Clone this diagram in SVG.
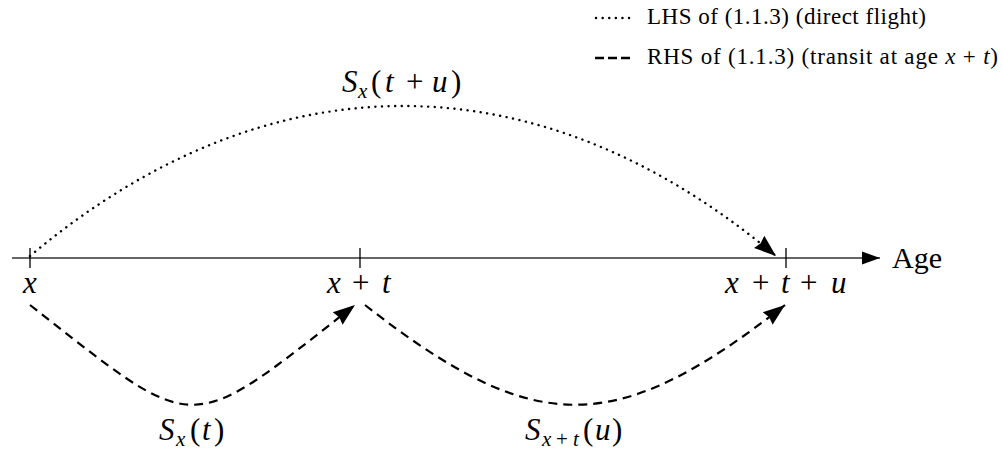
<svg xmlns="http://www.w3.org/2000/svg" width="1003" height="449" viewBox="0 0 1003 449">
<style>
.ax{stroke:#333;stroke-width:1.6;fill:none}
.tk{stroke:#000;stroke-width:1.3}
.dot{stroke:#000;stroke-width:2.4;fill:none;stroke-dasharray:0.1 6.5;stroke-linecap:round}
.dash{stroke:#000;stroke-width:2.2;fill:none;stroke-dasharray:9 6}
.ldash{stroke:#000;stroke-width:2.4;fill:none;stroke-dasharray:9 4}
.m{font-family:"Liberation Serif",serif;font-style:italic;font-size:31px;fill:#000}
.n{font-style:normal}
.s{font-size:21px}
.r{font-family:"Liberation Serif",serif;fill:#000}
.lg{font-family:"Liberation Serif",serif;font-size:23px;fill:#000}
</style>
<defs>
<marker id="ah" markerUnits="userSpaceOnUse" markerWidth="24" markerHeight="18" refX="22" refY="8" orient="auto" viewBox="0 0 24 16">
<path d="M0,0 L22,8 L0,16 L2,8 Z" fill="#000"/>
</marker>
<marker id="axh" markerUnits="userSpaceOnUse" markerWidth="20" markerHeight="14" refX="18" refY="6.5" orient="auto" viewBox="0 0 20 13">
<path d="M0,0 L18,6.5 L0,13 Z" fill="#000"/>
</marker>
</defs>
<g id="axis">
<line class="ax" x1="12" y1="258" x2="880" y2="258" marker-end="url(#axh)"/>
<line class="tk" x1="30" y1="248" x2="30" y2="268"/>
<line class="tk" x1="360" y1="248" x2="360" y2="268"/>
<line class="tk" x1="786" y1="248" x2="786" y2="268"/>
<text class="r" x="892" y="268" font-size="30">Age</text>
</g>
<g id="node-x"><text class="m" x="23" y="293">x</text></g>
<g id="node-xt"><text class="m" y="293"><tspan x="327">x</tspan><tspan class="n" x="352">+</tspan><tspan x="382">t</tspan></text></g>
<g id="node-xtu"><text class="m" y="293"><tspan x="725">x</tspan><tspan class="n" x="752">+</tspan><tspan x="781">t</tspan><tspan class="n" x="800">+</tspan><tspan x="831">u</tspan></text></g>
<g id="connectors">
<path class="dot" d="M30,256 C268,56 538,56 776,256" marker-end="url(#ah)"/>
<path class="dash" d="M30,305 C200,438 185,438 355,305" marker-end="url(#ah)"/>
<path class="dash" d="M365,305 C535,438 615,438 785,305" marker-end="url(#ah)"/>
</g>
<g id="label-top"><text class="m" y="92"><tspan x="342">S</tspan><tspan class="s" x="358" dy="6">x</tspan><tspan class="n" x="371" dy="-6">(</tspan><tspan x="385">t</tspan><tspan class="n" x="406">+</tspan><tspan x="432">u</tspan><tspan class="n" x="451">)</tspan></text></g>
<g id="label-st"><text class="m" y="440"><tspan x="159">S</tspan><tspan class="s" x="176" dy="6">x</tspan><tspan class="n" x="190" dy="-6">(</tspan><tspan x="202">t</tspan><tspan class="n" x="214">)</tspan></text></g>
<g id="label-su"><text class="m" y="440"><tspan x="525">S</tspan><tspan class="s" x="542" dy="6">x</tspan><tspan class="s n" x="556">+</tspan><tspan class="s" x="573">t</tspan><tspan class="n" x="583" dy="-6">(</tspan><tspan x="595">u</tspan><tspan class="n" x="612">)</tspan></text></g>
<g id="legend">
<line class="dot" x1="596" y1="18" x2="631" y2="18"/>
<text class="lg" x="647" y="24" textLength="279" lengthAdjust="spacing">LHS of (1.1.3) (direct flight)</text>
<line class="ldash" x1="595" y1="58" x2="631" y2="58"/>
<text class="lg" x="647" y="64" textLength="351" lengthAdjust="spacing">RHS of (1.1.3) (transit at age <tspan font-style="italic">x</tspan> + <tspan font-style="italic">t</tspan>)</text>
</g>
</svg>
